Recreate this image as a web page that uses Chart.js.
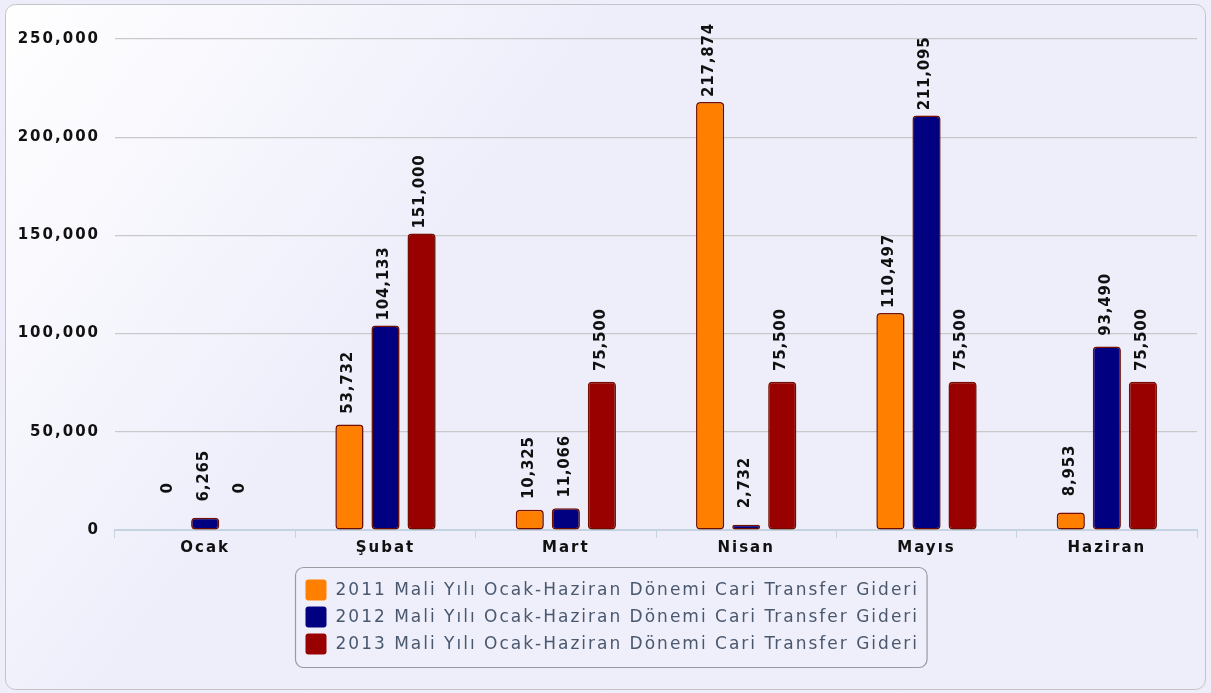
<!DOCTYPE html>
<html>
<head>
<meta charset="utf-8">
<script src="https://cdn.jsdelivr.net/npm/chart.js@4/dist/chart.umd.min.js"></script>
<style>
html,body{margin:0;padding:0;background:#fff;}
#wrap{position:relative;width:1211px;height:693px;}
</style>
</head>
<body>
<div id="wrap"><canvas id="c" width="1211" height="693"></canvas></div>
<script>
const categories = ['Ocak', 'Şubat', 'Mart', 'Nisan', 'Mayıs', 'Haziran'];
const seriesNames = [
  '2011 Mali Yılı Ocak-Haziran Dönemi Cari Transfer Gideri',
  '2012 Mali Yılı Ocak-Haziran Dönemi Cari Transfer Gideri',
  '2013 Mali Yılı Ocak-Haziran Dönemi Cari Transfer Gideri'
];
const values2011 = [0, 53732, 10325, 217874, 110497, 8953];
const values2012 = [6265, 104133, 11066, 2732, 211095, 93490];
const values2013 = [0, 151000, 75500, 75500, 75500, 75500];
const yTicks = [0, 50000, 100000, 150000, 200000, 250000];

const colors = ['#ff8000', '#000080', '#990000'];
const fmt = v => v.toLocaleString('en-US');

const bgPlugin = {
  id: 'bg',
  beforeDraw(chart) {
    const ctx = chart.ctx;
    const W = chart.width, H = chart.height;
    ctx.save();
    const g = ctx.createLinearGradient(0, 0, 400, 300);
    g.addColorStop(0, '#ffffff');
    g.addColorStop(1, '#eeeefb');
    ctx.fillStyle = '#eeeefb';
    ctx.fillRect(0, 0, W, H);
    ctx.beginPath();
    ctx.roundRect(5.5, 4.5, W - 11, H - 8, 10);
    ctx.fillStyle = g;
    ctx.fill();
    ctx.strokeStyle = '#c4c4c8';
    ctx.lineWidth = 1;
    ctx.stroke();
    ctx.restore();
    ctx.letterSpacing = '2px';
  },
  beforeDatasetsDraw(chart) {
    const ctx = chart.ctx;
    ctx.letterSpacing = '0px';
    ctx.save();
    ctx.shadowColor = 'rgba(0,0,0,0.22)';
    ctx.shadowBlur = 3;
    ctx.shadowOffsetX = 1;
    ctx.shadowOffsetY = 1;
  },
  afterDatasetsDraw(chart) {
    const ctx = chart.ctx;
    ctx.restore();
    ctx.save();
    ctx.letterSpacing = '0.8px';
    ctx.font = 'bold 15px "DejaVu Sans"';
    ctx.fillStyle = '#111';
    ctx.textAlign = 'center';
    ctx.textBaseline = 'middle';
    chart.data.datasets.forEach((ds, di) => {
      const meta = chart.getDatasetMeta(di);
      meta.data.forEach((bar, i) => {
        const v = ds.data[i];
        ctx.save();
        ctx.translate(bar.x - 1, bar.y - 42);
        ctx.rotate(-Math.PI / 2);
        ctx.fillText(fmt(v), 0, 0);
        ctx.restore();
      });
    });
    ctx.restore();
  },
  afterDraw(chart) {
    const ctx = chart.ctx;
    ctx.save();
    ctx.letterSpacing = '2px';
    ctx.font = '17px "DejaVu Sans"';
    let tw = 0;
    chart.data.datasets.forEach(ds => { tw = Math.max(tw, ctx.measureText(ds.label).width); });
    const box = 21, gap = 9, pad = 10, rowH = 27;
    const w = pad + box + gap + tw + pad - 2;
    const h = 100;
    const x0 = Math.round((chart.width - w) / 2) + 5 + 0.5;
    const y0 = chart.chartArea.bottom + 37.5;
    ctx.beginPath();
    ctx.roundRect(x0, y0, w, h, 8);
    ctx.fillStyle = 'rgba(240,240,252,0.6)';
    ctx.fill();
    ctx.strokeStyle = '#9a9aa0';
    ctx.lineWidth = 1.2;
    ctx.stroke();
    ctx.textBaseline = 'middle';
    ctx.textAlign = 'left';
    chart.data.datasets.forEach((ds, i) => {
      const cy = y0 + 22 + i * rowH;
      ctx.beginPath();
      ctx.roundRect(x0 + pad, cy - 10, box, box, 3);
      ctx.fillStyle = ds.backgroundColor;
      ctx.fill();
      ctx.fillStyle = '#4a586e';
      ctx.fillText(ds.label, x0 + pad + box + gap, cy + 1);
    });
    ctx.restore();
  }
};

new Chart(document.getElementById('c'), {
  type: 'bar',
  data: {
    labels: categories,
    datasets: [values2011, values2012, values2013].map((d, i) => ({
      label: seriesNames[i],
      data: d,
      backgroundColor: colors[i],
      borderColor: '#7a1000',
      borderWidth: 1.5,
      borderRadius: 4,
      borderSkipped: false,
      categoryPercentage: 0.6,
      barPercentage: 0.78
    }))
  },
  options: {
    responsive: false,
    animation: false,
    devicePixelRatio: 1,
    layout: { padding: { top: 39, right: 14, bottom: 0, left: 0 } },
    plugins: { legend: { display: false }, tooltip: { enabled: false } },
    scales: {
      x: {
        afterFit(s) { s.height = 163; },
        grid: { display: true, drawOnChartArea: false, color: '#c5d2e0', tickLength: 8, offset: true },
        border: { color: '#c5d2e0', width: 2 },
        ticks: { color: '#111', font: { family: 'DejaVu Sans', size: 15, weight: 'bold' }, padding: 1 }
      },
      y: {
        min: 0, max: 250000,
        afterFit(s) { s.width = 115; },
        afterBuildTicks(s) { s.ticks = yTicks.map(v => ({ value: v })); },
        grid: { color: '#c9c9cc', lineWidth: 1.2, drawTicks: false },
        border: { display: false },
        ticks: { color: '#111', padding: 15, font: { family: 'DejaVu Sans', size: 15, weight: 'bold' }, callback: v => fmt(v) }
      }
    }
  },
  plugins: [bgPlugin]
});
</script>
</body>
</html>
